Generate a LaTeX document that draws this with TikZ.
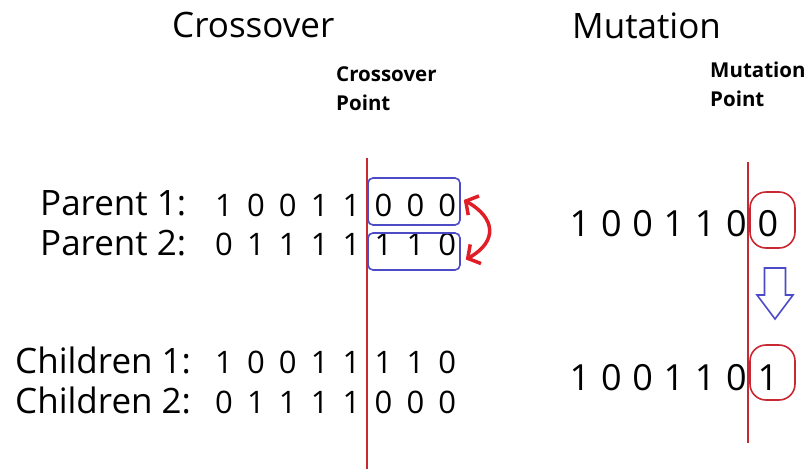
\documentclass[tikz,border=0pt]{standalone}
\usepackage{fontspec}
\setmainfont{Open Sans}
\usetikzlibrary{arrows.meta}

\definecolor{cutred}{RGB}{200,40,50}
\definecolor{swapred}{RGB}{225,30,40}
\definecolor{boxblue}{RGB}{75,75,200}

\begin{document}
\begin{tikzpicture}[x=1pt, y=-1pt,
		heading/.style={anchor=base west, inner sep=0, font=\fontsize{35}{40}\selectfont},
		pointnote/.style={anchor=north west, inner sep=0, align=left, font=\fontsize{20.5}{29}\selectfont\bfseries},
		rowname/.style={anchor=base west, inner sep=0, font=\fontsize{35}{40}\selectfont},
		bit/.style={anchor=base, inner sep=0, font=\fontsize{31}{36}\selectfont},
		mbit/.style={anchor=base, inner sep=0, font=\fontsize{36}{40}\selectfont},
		cutline/.style={cutred, line width=1.6},
		cbox/.style={draw=boxblue, line width=1.6, rounded corners=5, minimum width=92},
		mbox/.style={draw=cutred, line width=1.6, rounded corners=16, minimum width=45},
		swap/.style={swapred, line width=3.5, {Straight Barb[length=9pt,width=22pt]}-{Straight Barb[length=9pt,width=22pt]}}]
		\useasboundingbox (0,0) rectangle (808,469);

		% headings
		\node [heading] (crosstitle) at (172,37) {Crossover};
		\node [heading] (muttitle) at (572,38) {Mutation};
		\node [pointnote] (crossnote) at (336,66) {Crossover\\Point};
		\node [pointnote] (mutnote) at (710,62) {Mutation\\Point};

		% cut points
		\coordinate (crosstop) at (367,158);
		\coordinate (crossbot) at (367,469);
		\coordinate (muttop) at (748,162);
		\coordinate (mutbot) at (748,443);
		\draw [cutline] (crosstop) -- (crossbot);
		\draw [cutline] (muttop) -- (mutbot);

		% crossover
		\node [rowname] (p1) at (40,215) {Parent 1:};
		\node [rowname] (p2) at (40,255) {Parent 2:};
		\node [rowname] (c1) at (15,373) {Children 1:};
		\node [rowname] (c2) at (15,413) {Children 2:};
		\foreach \b [count=\i from 0] in {1,0,0,1,1,0,0,0}
			\node [bit] (p1-\i) at (224+31.9*\i, 216) {\b};
		\foreach \b [count=\i from 0] in {0,1,1,1,1,1,1,0}
			\node [bit] (p2-\i) at (224+31.9*\i, 255) {\b};
		\foreach \b [count=\i from 0] in {1,0,0,1,1,1,1,0}
			\node [bit] (c1-\i) at (224+31.9*\i, 373) {\b};
		\foreach \b [count=\i from 0] in {0,1,1,1,1,0,0,0}
			\node [bit] (c2-\i) at (224+31.9*\i, 413) {\b};
		\node [cbox, minimum height=47] (p1box) at (414,201.5) {};
		\node [cbox, minimum height=37] (p2box) at (414,251.5) {};
		\draw [swap] ([shift={(3,-1.5)}]p1box.east) .. controls +(32,18) and +(32,-18) .. ([shift={(5,8)}]p2box.east);

		% mutation
		\foreach \b [count=\i from 0] in {1,0,0,1,1,0,0}
			\node [mbit] (m1-\i) at (580+31.3*\i, 236) {\b};
		\foreach \b [count=\i from 0] in {1,0,0,1,1,0,1}
			\node [mbit] (m2-\i) at (580+31.3*\i, 390) {\b};
		\node [mbox, minimum height=56] (m1box) at (772.5,220) {};
		\node [mbox, minimum height=55] (m2box) at (772.5,372.5) {};
		\draw [boxblue, line width=1.6] (764.5,268) -- (785.5,268) -- (785.5,295) -- (793,295)
			-- (775,319) -- (757,295) -- (764.5,295) -- cycle;
	\end{tikzpicture}
\end{document}
